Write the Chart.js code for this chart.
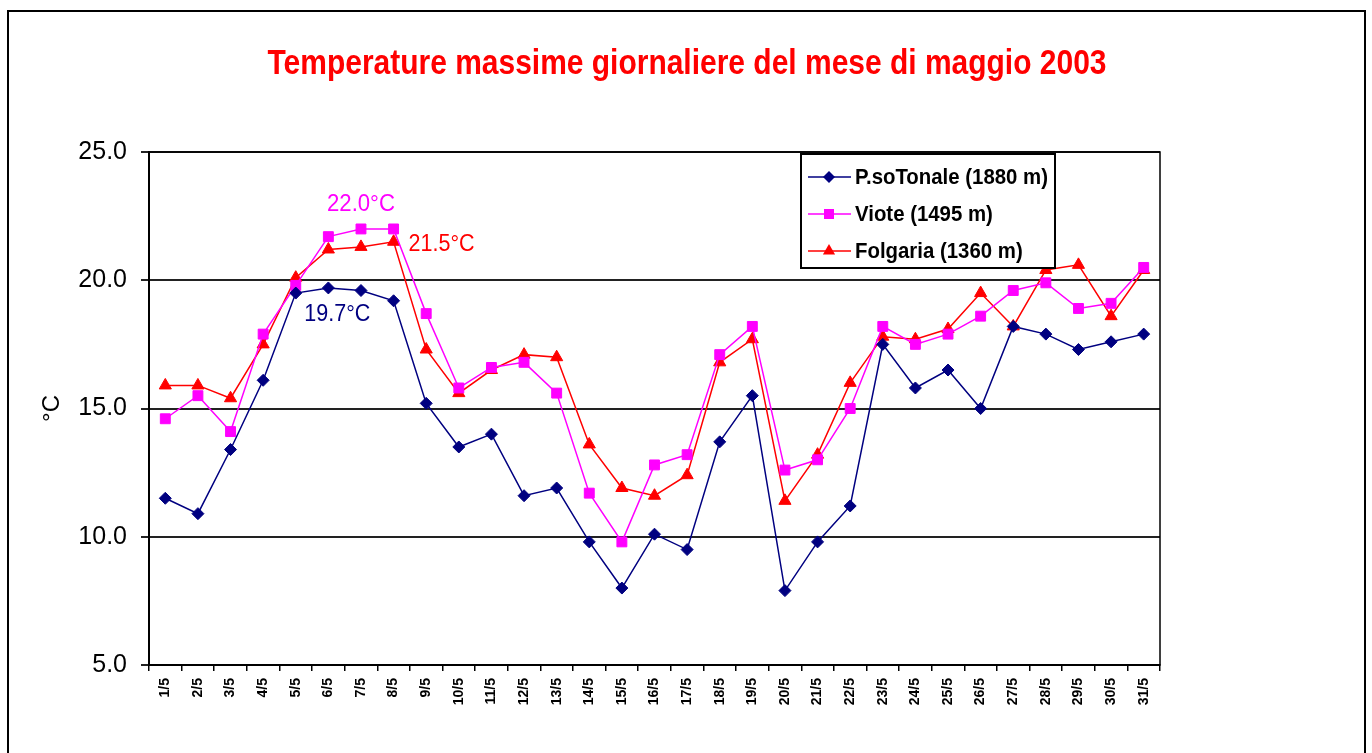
<!DOCTYPE html>
<html>
<head>
<meta charset="utf-8">
<script src="https://cdn.jsdelivr.net/npm/chart.js@4.4.1/dist/chart.umd.min.js"></script>
<style>
  html, body { margin: 0; padding: 0; background: #fff; }
  #wrap { width: 1372px; height: 753px; position: relative; }
</style>
</head>
<body>
<div id="wrap"><canvas id="chart"></canvas></div>
<script>
// giorni di maggio 2003
const days = ['1/5','2/5','3/5','4/5','5/5','6/5','7/5','8/5','9/5','10/5',
  '11/5','12/5','13/5','14/5','15/5','16/5','17/5','18/5','19/5','20/5',
  '21/5','22/5','23/5','24/5','25/5','26/5','27/5','28/5','29/5','30/5','31/5'];

// temperature massime (°C)
const tonale = [11.5, 10.9, 13.4, 16.1, 19.5, 19.7, 19.6, 19.2, 15.2, 13.5,
  14.0, 11.6, 11.9, 9.8, 8.0, 10.1, 9.5, 13.7, 15.5, 7.9,
  9.8, 11.2, 17.5, 15.8, 16.5, 15.0, 18.2, 17.9, 17.3, 17.6, 17.9];
const viote = [14.6, 15.5, 14.1, 17.9, 19.8, 21.7, 22.0, 22.0, 18.7, 15.8,
  16.6, 16.8, 15.6, 11.7, 9.8, 12.8, 13.2, 17.1, 18.2, 12.6,
  13.0, 15.0, 18.2, 17.5, 17.9, 18.6, 19.6, 19.9, 18.9, 19.1, 20.5];
const folgaria = [15.9, 15.9, 15.4, 17.5, 20.1, 21.2, 21.3, 21.5, 17.3, 15.6,
  16.5, 17.1, 17.0, 13.6, 11.9, 11.6, 12.4, 16.8, 17.7, 11.4,
  13.2, 16.0, 17.8, 17.7, 18.1, 19.5, 18.2, 20.4, 20.6, 18.6, 20.4];

const seriesNames = ['P.soTonale (1880 m)', 'Viote (1495 m)', 'Folgaria (1360 m)'];
const yTicks = [5, 10, 15, 20, 25];
const titleText = 'Temperature massime giornaliere del mese di maggio 2003';

const NAVY = '#000080', MAGENTA = '#FF00FF', RED = '#FF0000';
const arial = "'Liberation Sans', Arial, sans-serif";

function marker(ctx, style, x, y, color) {
  ctx.save();
  ctx.fillStyle = color;
  ctx.beginPath();
  if (style === 'rectRot') {
    const r = 6;
    ctx.moveTo(x, y - r); ctx.lineTo(x + r, y); ctx.lineTo(x, y + r); ctx.lineTo(x - r, y);
  } else if (style === 'rect') {
    ctx.rect(x - 5, y - 5, 10, 10);
  } else {
    const r = 7;
    ctx.moveTo(x, y - r); ctx.lineTo(x + r * 0.87, y + r * 0.5); ctx.lineTo(x - r * 0.87, y + r * 0.5);
  }
  ctx.closePath();
  ctx.fill();
  ctx.restore();
}

// testo compresso in orizzontale (il font originale è stretto)
function narrowText(ctx, text, x, y, width, align) {
  const w = ctx.measureText(text).width;
  ctx.save();
  ctx.translate(x, y);
  ctx.scale(width / w, 1);
  ctx.textAlign = align;
  ctx.fillText(text, 0, 0);
  ctx.restore();
}

const extras = {
  id: 'extras',
  afterDatasetsDraw(chart) {
    const ctx = chart.ctx;
    const xs = chart.scales.x, ys = chart.scales.y;
    ctx.save();
    ctx.font = '23px ' + arial;
    ctx.textBaseline = 'middle';
    // etichette dei massimi
    ctx.fillStyle = MAGENTA;
    narrowText(ctx, viote[6].toFixed(1) + '°C', xs.getPixelForValue(6), ys.getPixelForValue(viote[6]) - 24, 68, 'center');
    ctx.fillStyle = RED;
    narrowText(ctx, folgaria[7].toFixed(1) + '°C', xs.getPixelForValue(7) + 15, ys.getPixelForValue(folgaria[7]) + 3, 66, 'left');
    ctx.fillStyle = NAVY;
    narrowText(ctx, tonale[5].toFixed(1) + '°C', xs.getPixelForValue(5) + 9, ys.getPixelForValue(tonale[5]) + 27, 66, 'center');
    ctx.restore();
  },
  afterDraw(chart) {
    const ctx = chart.ctx, a = chart.chartArea;
    ctx.save();
    // titolo
    ctx.fillStyle = RED;
    ctx.font = 'bold 35px ' + arial;
    ctx.textBaseline = 'middle';
    narrowText(ctx, titleText, 687, 64, 839, 'center');
    // bordo area del grafico
    ctx.strokeStyle = '#000';
    ctx.lineWidth = 1.5;
    ctx.strokeRect(a.left, a.top, a.right - a.left, a.bottom - a.top);
    // legenda
    const lx = a.left + 652, ly = a.top + 2, lw = 254, lh = 114;
    ctx.fillStyle = '#fff';
    ctx.fillRect(lx, ly, lw, lh);
    ctx.lineWidth = 2;
    ctx.strokeRect(lx, ly, lw, lh);
    const colors = [NAVY, MAGENTA, RED];
    const styles = ['rectRot', 'rect', 'triangle'];
    ctx.font = 'bold 22px ' + arial;
    ctx.textBaseline = 'middle';
    const k = 193 / ctx.measureText(seriesNames[0]).width;
    seriesNames.forEach((name, i) => {
      const cy = ly + 23 + i * 37;
      ctx.strokeStyle = colors[i];
      ctx.lineWidth = 1.5;
      ctx.beginPath();
      ctx.moveTo(lx + 7, cy); ctx.lineTo(lx + 50, cy);
      ctx.stroke();
      marker(ctx, styles[i], lx + 28, cy, colors[i]);
      ctx.fillStyle = '#000';
      narrowText(ctx, name, lx + 54, cy + 1, ctx.measureText(name).width * k, 'left');
    });
    // cornice esterna
    ctx.strokeStyle = '#000';
    ctx.lineWidth = 2;
    ctx.strokeRect(8, 11, 1357, 800);
    ctx.restore();
  }
};

new Chart(document.getElementById('chart'), {
  type: 'line',
  data: {
    labels: days,
    datasets: [
      { label: seriesNames[0], data: tonale, borderColor: NAVY, backgroundColor: NAVY,
        borderWidth: 1.5, pointStyle: 'rectRot', pointRadius: 6, pointBorderWidth: 1, tension: 0 },
      { label: seriesNames[1], data: viote, borderColor: MAGENTA, backgroundColor: MAGENTA,
        borderWidth: 1.5, pointStyle: 'rect', pointRadius: 7, pointBorderWidth: 1, tension: 0 },
      { label: seriesNames[2], data: folgaria, borderColor: RED, backgroundColor: RED,
        borderWidth: 1.5, pointStyle: 'triangle', pointRadius: 7, pointBorderWidth: 1, tension: 0 }
    ]
  },
  options: {
    responsive: true,
    maintainAspectRatio: false,
    animation: false,
    layout: { padding: { top: 152, left: 0, right: 212, bottom: 0 } },
    plugins: {
      legend: { display: false },
      tooltip: { enabled: false },
      title: { display: false }
    },
    scales: {
      x: {
        offset: true,
        grid: { offset: true, drawOnChartArea: false, drawTicks: true, tickLength: 6, color: '#000', lineWidth: 1.5 },
        border: { display: true, color: '#000', width: 2 },
        ticks: {
          color: '#000', autoSkip: false, minRotation: 90, maxRotation: 90, padding: 7,
          font: { family: arial, size: 14, weight: 'bold' }
        },
        afterFit(scale) { scale.height = 88; }
      },
      y: {
        min: 5, max: 25,
        afterBuildTicks(scale) { scale.ticks = yTicks.map(v => ({ value: v })); },
        grid: { color: '#222', lineWidth: 2, tickLength: 8, drawTicks: true },
        border: { display: true, color: '#000', width: 2 },
        ticks: {
          color: '#000', padding: 14,
          font: { family: arial, size: 25 },
          callback: v => v.toFixed(1)
        },
        title: {
          display: true, text: '°C', color: '#000',
          font: { family: arial, size: 24 },
          padding: { top: 38, bottom: 0 }
        },
        afterFit(scale) { scale.width = 149; }
      }
    }
  },
  plugins: [extras]
});
</script>
</body>
</html>
